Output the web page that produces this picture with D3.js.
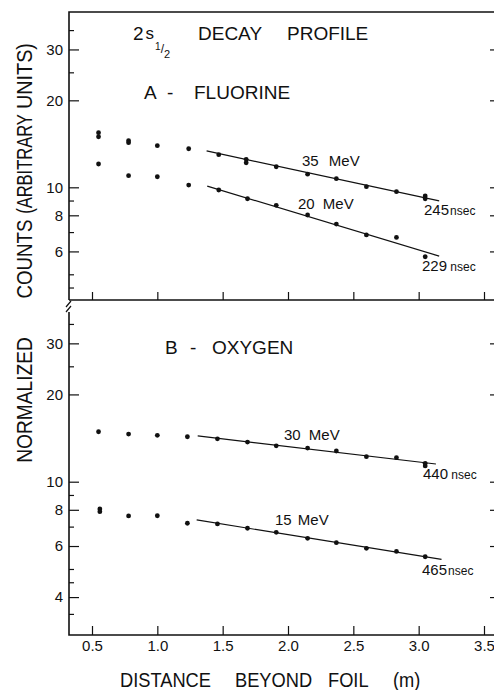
<!DOCTYPE html>
<html>
<head>
<meta charset="utf-8">
<script src="https://cdn.jsdelivr.net/npm/d3@7/dist/d3.min.js"></script>
<style>
  body { margin: 0; background: #fff; }
  svg { display: block; }
  text { font-family: "Liberation Sans", Arial, sans-serif; fill: #111; }
</style>
</head>
<body>
<svg id="chart" width="494" height="690"></svg>
<script>
'use strict';

// x ticks (distance beyond foil, m)
const xTicks = [0.5, 1.0, 1.5, 2.0, 2.5, 3.0, 3.5];

// y ticks (normalized counts, log)
const topMajor = [6, 8, 10, 20, 30];
const botMajor = [4, 6, 8, 10, 20, 30];
const minorTicks = [3.5, 4.5, 5, 7, 9, 25, 35];

// A - fluorine: [distance, counts]
const fluor35 = [[0.55, 15.45], [0.55, 14.96], [0.78, 14.5], [0.78, 14.27], [1.0, 13.93],
    [1.24, 13.6], [1.47, 12.97], [1.68, 12.5], [1.68, 12.16], [1.91, 11.78], [2.15, 11.1],
    [2.37, 10.71], [2.6, 10.05], [2.83, 9.66], [3.05, 9.33], [3.05, 9.13]];
const fluor20 = [[0.55, 12.04], [0.78, 10.97], [1.0, 10.88], [1.24, 10.18], [1.47, 9.79],
    [1.69, 9.13], [1.91, 8.66], [2.15, 8.02], [2.37, 7.46], [2.6, 6.84], [2.83, 6.71], [3.05, 5.75]];

// B - oxygen
const oxy30 = [[0.55, 14.87], [0.78, 14.6], [1.0, 14.45], [1.23, 14.29], [1.46, 14.06],
    [1.69, 13.7], [1.91, 13.3], [2.15, 13.06], [2.37, 12.76], [2.6, 12.2], [2.83, 12.1],
    [3.05, 11.57], [3.05, 11.33]];
const oxy15 = [[0.56, 8.05], [0.56, 7.88], [0.78, 7.62], [1.0, 7.63], [1.23, 7.19], [1.46, 7.15],
    [1.69, 6.91], [1.91, 6.69], [2.15, 6.38], [2.37, 6.16], [2.6, 5.89], [2.83, 5.75], [3.05, 5.51]];

// exponential fits (end points)
const fitF35 = [[1.377, 13.36], [3.157, 8.97]];
const fitF20 = [[1.382, 10.1], [3.157, 5.78]];
const fitO30 = [[1.309, 14.38], [3.132, 11.51]];
const fitO15 = [[1.301, 7.38], [3.175, 5.40]];

const svg = d3.select('#chart');
const frameL = 69, frameR = 497, frameT = 12, frameM = 300, frameB = 635;

const x = d3.scaleLinear().domain([0.5, 3.5]).range([92, 484]);
const yTop = d3.scaleLog().domain([4.074, 40.43]).range([frameM, frameT]);
const yBot = d3.scaleLog().domain([2.96, 42.33]).range([frameB, frameM]);

function styleAxis(g) {
    g.select('.domain').remove();
    g.selectAll('.tick line').attr('stroke', '#111').attr('stroke-width', 1.2);
    g.selectAll('.tick text')
        .attr('fill', '#111')
        .attr('font-size', 15)
        .attr('font-family', '"Liberation Sans", Arial, sans-serif');
}

function drawPanel(y, major, yFrom) {
    svg.append('g').attr('transform', 'translate(' + frameL + ',0)')
        .call(d3.axisLeft(y).tickValues(major).tickSize(-10).tickPadding(6).tickFormat(d3.format('d')))
        .call(styleAxis);
    svg.append('g').attr('transform', 'translate(' + frameL + ',0)')
        .call(d3.axisLeft(y).tickValues(minorTicks.filter(v => y(v) > yFrom + 2 && y(v) < y.range()[0] - 2))
            .tickSize(-5).tickFormat(''))
        .call(styleAxis);
    svg.append('g').attr('transform', 'translate(' + frameR + ',0)')
        .call(d3.axisRight(y).tickValues(major).tickSize(-7).tickFormat(''))
        .call(styleAxis);
}

drawPanel(yTop, topMajor, frameT);
drawPanel(yBot, botMajor, frameM + 8);

// x ticks on both panel bottoms
svg.append('g').attr('transform', 'translate(0,' + frameM + ')')
    .call(d3.axisBottom(x).tickValues(xTicks).tickSize(-8).tickFormat(''))
    .call(styleAxis);
svg.append('g').attr('transform', 'translate(0,' + frameB + ')')
    .call(d3.axisBottom(x).tickValues(xTicks).tickSize(-9).tickPadding(5).tickFormat(d3.format('.1f')))
    .call(styleAxis);

// frame
const frame = svg.append('g').attr('stroke', '#111').attr('stroke-width', 1.6).attr('fill', 'none');
frame.append('path').attr('d', `M${frameL},${frameM}V${frameT}H${frameR}V${frameB}`);
frame.append('path').attr('d', `M${frameL},${frameM}H${frameR}`);
frame.append('path').attr('d', `M${frameL},${frameM + 12}V${frameB}H${frameR}`);
// axis break
frame.append('path').attr('stroke-width', 1.2)
    .attr('d', `M${frameL - 3},${frameM + 7}L${frameL + 2},${frameM + 1}M${frameL - 3},${frameM + 12}L${frameL + 2},${frameM + 6}`);

// data
const line = y => d3.line().x(d => x(d[0])).y(d => y(d[1]));
function series(y, pts, fit) {
    svg.append('path').datum(fit)
        .attr('d', line(y))
        .attr('stroke', '#111').attr('stroke-width', 1.2).attr('fill', 'none');
    svg.append('g').selectAll('circle').data(pts).join('circle')
        .attr('cx', d => x(d[0])).attr('cy', d => y(d[1])).attr('r', 2.4)
        .attr('fill', '#111');
}
series(yTop, fluor35, fitF35);
series(yTop, fluor20, fitF20);
series(yBot, oxy30, fitO30);
series(yBot, oxy15, fitO15);

// labels
function label(txt, xp, yp, size, extra) {
    const t = svg.append('text').attr('x', xp).attr('y', yp).attr('font-size', size).text(txt);
    if (extra) extra(t);
    return t;
}
function life(num, unit, xp, yp) {
    const t = svg.append('text').attr('x', xp).attr('y', yp).attr('font-size', 15);
    t.append('tspan').text(num);
    t.append('tspan').attr('font-size', 12).attr('dx', unit[0] === ' ' ? 0 : 1).text(unit);
}

// title: 2s with a 1/2 subscript
const t2s = svg.append('text').attr('x', 133).attr('y', 40).attr('font-size', 19);
t2s.append('tspan').text('2');
t2s.append('tspan').attr('dx', 2).attr('dy', -1).attr('font-size', 17).text('s');
t2s.append('tspan').attr('dx', 1).attr('dy', 11).attr('font-size', 10).text('1');
t2s.append('tspan').attr('dy', 3).attr('font-size', 12).text('/');
t2s.append('tspan').attr('dy', 5).attr('font-size', 11).text('2');
label('DECAY', 198, 40, 19);
label('PROFILE', 287, 40, 19);

label('A', 144, 99, 19);
label('-', 167, 99, 19);
label('FLUORINE', 194, 99, 19);
label('B', 165, 354, 19);
label('-', 190, 354, 19);
label('OXYGEN', 212, 354, 19);

label('35 MeV', 302, 166, 15, t => t.attr('word-spacing', 6));
label('20 MeV', 298, 209, 15, t => t.attr('word-spacing', 4));
life('245', 'nsec', 424, 215);
life('229', ' nsec', 422, 271);
label('30 MeV', 284, 440, 15, t => t.attr('word-spacing', 4));
label('15 MeV', 275, 525, 15, t => t.attr('word-spacing', 2));
life('440', ' nsec', 423, 479);
life('465', 'nsec', 422, 575);

// x axis title, word by word (lettering is narrow and tall)
[['DISTANCE', 120], ['BEYOND', 235], ['FOIL', 328], ['(m)', 393]].forEach(w => {
    svg.append('text')
        .attr('transform', 'translate(' + w[1] + ',687) scale(0.87,1)')
        .attr('font-size', 21).text(w[0]);
});

// y axis title, rotated, word by word
[['NORMALIZED', 400, 0.87], ['COUNTS', 259, 0.85], ['(ARBITRARY', 164, 0.75], ['UNITS)', 76, 0.9]].forEach(w => {
    svg.append('text')
        .attr('transform', 'translate(31.5,' + w[1] + ') rotate(-90) scale(' + w[2] + ',1)')
        .attr('text-anchor', 'middle')
        .attr('font-size', 22).text(w[0]);
});
</script>
</body>
</html>
